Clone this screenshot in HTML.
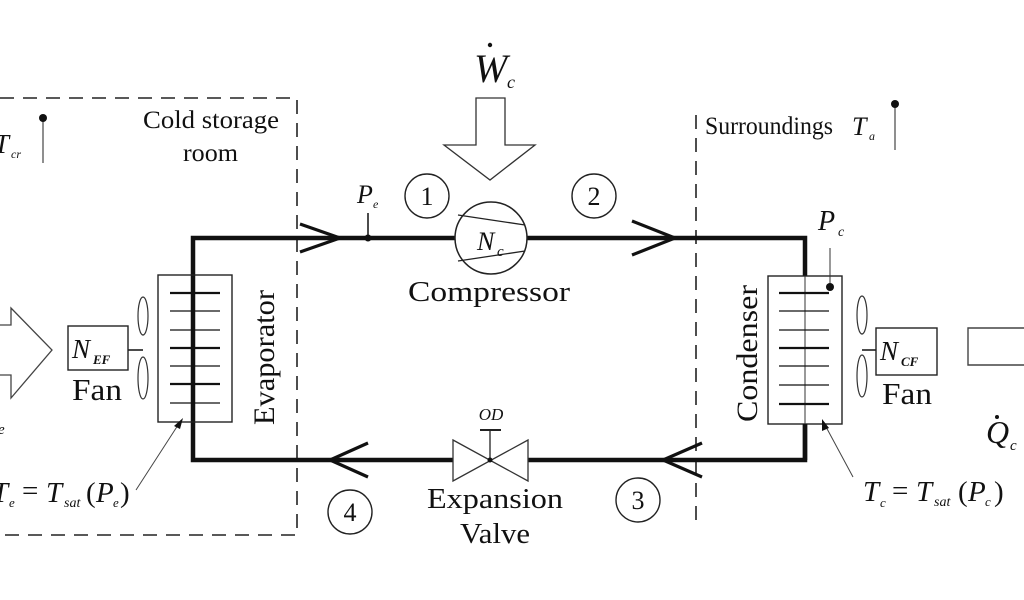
<!DOCTYPE html>
<html><head><style>
html,body{margin:0;padding:0;background:#fff;}
svg{display:block;}
text{font-family:"Liberation Serif",serif;fill:#111;}
.it{font-style:italic;}
</style></head><body>
<svg width="1024" height="600" viewBox="0 0 1024 600" xmlns="http://www.w3.org/2000/svg">
<g fill="none" stroke="#222" stroke-width="1.6" stroke-dasharray="14,9">
<path d="M0 98 H297 V535 H0"/>
<path d="M696 115 V522"/>
</g>
<g stroke="#111" stroke-width="4.5" fill="none">
<path d="M193 422 V238 H805 V276"/>
<path d="M193 422 V460 H453"/>
<path d="M528 460 H805 V424"/>
</g>
<g stroke="#111" stroke-width="3.2" fill="none">
<path d="M300 224 L340 238 L300 252"/>
<path d="M632 221 L675 238 L632 255"/>
<path d="M368 443 L330 460 L368 477"/>
<path d="M702 443 L663 460 L702 477"/>
</g>
<line x1="368" y1="213" x2="368" y2="238" stroke="#111" stroke-width="1.5"/>
<circle cx="368" cy="238" r="3.5" fill="#111"/>
<text x="357" y="203" class="it" font-size="26">P</text><text x="373" y="208" class="it" font-size="12">e</text>
<circle cx="491" cy="238" r="36" fill="#fff" stroke="#222" stroke-width="1.5"/>
<line x1="458" y1="215" x2="525" y2="225" stroke="#222" stroke-width="1.3"/>
<line x1="458" y1="261" x2="525" y2="251" stroke="#222" stroke-width="1.3"/>
<text x="477" y="250" class="it" font-size="26">N</text><text x="497" y="256" class="it" font-size="15">c</text>
<text x="408" y="301" font-size="29" textLength="162" lengthAdjust="spacingAndGlyphs">Compressor</text>
<path d="M476 98 H505 V145 H535 L490 180 L444 145 H476 Z" fill="#fff" stroke="#333" stroke-width="1.3"/>
<text x="474" y="82" class="it" font-size="40">W</text><text x="507" y="88" class="it" font-size="18">c</text>
<circle cx="490" cy="45" r="2.2" fill="#111"/>
<g fill="#fff" stroke="#222" stroke-width="1.4">
<circle cx="427" cy="196" r="22"/><circle cx="594" cy="196" r="22"/>
<circle cx="638" cy="500" r="22"/><circle cx="350" cy="512" r="22"/>
</g>
<g font-size="26" text-anchor="middle">
<text x="427" y="205">1</text><text x="594" y="205">2</text>
<text x="638" y="509">3</text><text x="350" y="521">4</text>
</g>
<path d="M453 440 L528 481 L528 440 L453 481 Z" fill="#fff" stroke="#333" stroke-width="1.3"/>
<line x1="490" y1="430" x2="490" y2="460" stroke="#222" stroke-width="1.3"/>
<line x1="480" y1="430" x2="501" y2="430" stroke="#222" stroke-width="2"/>
<circle cx="490" cy="460" r="2.5" fill="#111"/>
<text x="491" y="420" class="it" font-size="17" text-anchor="middle">OD</text>
<text x="427" y="508" font-size="29" textLength="136" lengthAdjust="spacingAndGlyphs">Expansion</text>
<text x="460" y="543" font-size="29" textLength="70" lengthAdjust="spacingAndGlyphs">Valve</text>
<rect x="158" y="275" width="74" height="147" fill="none" stroke="#222" stroke-width="1.4"/>
<g stroke="#111">
<line x1="170" y1="293" x2="220" y2="293" stroke-width="2.2"/>
<line x1="170" y1="311" x2="220" y2="311" stroke-width="1.3"/>
<line x1="170" y1="330" x2="220" y2="330" stroke-width="1.3"/>
<line x1="170" y1="348" x2="220" y2="348" stroke-width="2.2"/>
<line x1="170" y1="366" x2="220" y2="366" stroke-width="1.3"/>
<line x1="170" y1="384" x2="220" y2="384" stroke-width="2.2"/>
<line x1="170" y1="403" x2="220" y2="403" stroke-width="1.3"/>
</g>
<text transform="translate(274,425) rotate(-90)" font-size="30" textLength="135" lengthAdjust="spacingAndGlyphs">Evaporator</text>
<rect x="768" y="276" width="74" height="148" fill="none" stroke="#222" stroke-width="1.4"/>
<line x1="805" y1="276" x2="805" y2="424" stroke="#333" stroke-width="1"/>
<line x1="805" y1="424" x2="805" y2="460" stroke="#111" stroke-width="4.5"/>
<g stroke="#111">
<line x1="779" y1="293" x2="829" y2="293" stroke-width="2.2"/>
<line x1="779" y1="311" x2="829" y2="311" stroke-width="1.3"/>
<line x1="779" y1="330" x2="829" y2="330" stroke-width="1.3"/>
<line x1="779" y1="348" x2="829" y2="348" stroke-width="2.2"/>
<line x1="779" y1="366" x2="829" y2="366" stroke-width="1.3"/>
<line x1="779" y1="385" x2="829" y2="385" stroke-width="1.3"/>
<line x1="779" y1="404" x2="829" y2="404" stroke-width="2.2"/>
</g>
<line x1="830" y1="248" x2="830" y2="287" stroke="#333" stroke-width="1"/>
<circle cx="830" cy="287" r="4" fill="#111"/>
<text x="818" y="230" class="it" font-size="28">P</text><text x="838" y="236" class="it" font-size="14">c</text>
<text transform="translate(757,422) rotate(-90)" font-size="30" textLength="137" lengthAdjust="spacingAndGlyphs">Condenser</text>
<g fill="none" stroke="#333" stroke-width="1.2">
<ellipse cx="143" cy="316" rx="5" ry="19"/><ellipse cx="143" cy="378" rx="5" ry="21"/>
<ellipse cx="862" cy="315" rx="5" ry="19"/><ellipse cx="862" cy="376" rx="5" ry="21"/>
</g>
<line x1="127" y1="350" x2="143" y2="350" stroke="#111" stroke-width="1.5"/>
<rect x="68" y="326" width="60" height="44" fill="#fff" stroke="#222" stroke-width="1.4"/>
<text x="72" y="358" class="it" font-size="27">N</text><text x="93" y="364" class="it" font-size="13" font-weight="bold">EF</text>
<text x="72" y="400" font-size="31" textLength="50" lengthAdjust="spacingAndGlyphs">Fan</text>
<path d="M0 325 H11 V308 L52 350 L11 398 V375 H0" fill="#fff" stroke="#444" stroke-width="1.3"/>
<line x1="862" y1="350" x2="876" y2="350" stroke="#111" stroke-width="1.5"/>
<rect x="876" y="328" width="61" height="47" fill="#fff" stroke="#222" stroke-width="1.4"/>
<text x="880" y="360" class="it" font-size="27">N</text><text x="901" y="366" class="it" font-size="13" font-weight="bold">CF</text>
<text x="882" y="404" font-size="31" textLength="50" lengthAdjust="spacingAndGlyphs">Fan</text>
<path d="M1024 328 H968 V365 H1024" fill="#fff" stroke="#444" stroke-width="1.4"/>
<text x="986" y="443" class="it" font-size="32">Q</text><text x="1010" y="450" class="it" font-size="15">c</text>
<circle cx="997" cy="417" r="2" fill="#111"/>
<line x1="43" y1="118" x2="43" y2="163" stroke="#444" stroke-width="1.2"/>
<circle cx="43" cy="118" r="4" fill="#111"/>
<text x="-6" y="153" class="it" font-size="27">T</text><text x="11" y="158" class="it" font-size="12">cr</text>
<line x1="895" y1="104" x2="895" y2="150" stroke="#444" stroke-width="1.2"/>
<circle cx="895" cy="104" r="4" fill="#111"/>
<text x="705" y="134" font-size="25" textLength="128" lengthAdjust="spacingAndGlyphs">Surroundings</text>
<text x="852" y="135" class="it" font-size="26">T</text><text x="869" y="140" class="it" font-size="12">a</text>
<text x="143" y="128" font-size="25" textLength="136" lengthAdjust="spacingAndGlyphs">Cold storage</text>
<text x="183" y="161" font-size="25" textLength="55" lengthAdjust="spacingAndGlyphs">room</text>
<text x="-8" y="502" class="it" font-size="29">T</text><text x="9" y="507" class="it" font-size="13">e</text>
<text x="22" y="500" font-size="29">=</text>
<text x="46" y="502" class="it" font-size="29">T</text><text x="64" y="507" class="it" font-size="14">sat</text>
<text x="86" y="502" font-size="29">(</text><text x="96" y="502" class="it" font-size="29">P</text><text x="113" y="507" class="it" font-size="13">e</text><text x="120" y="502" font-size="29">)</text>
<text x="-2" y="434" class="it" font-size="15">e</text>
<line x1="136" y1="490" x2="180" y2="422" stroke="#444" stroke-width="1"/>
<path d="M183 418 L174 426 L180 429 Z" fill="#111"/>
<text x="863" y="501" class="it" font-size="29">T</text><text x="880" y="507" class="it" font-size="13">c</text>
<text x="892" y="500" font-size="29">=</text>
<text x="916" y="501" class="it" font-size="29">T</text><text x="934" y="506" class="it" font-size="14">sat</text>
<text x="958" y="501" font-size="29">(</text><text x="968" y="501" class="it" font-size="29">P</text><text x="985" y="506" class="it" font-size="13">c</text><text x="994" y="501" font-size="29">)</text>
<line x1="853" y1="477" x2="825" y2="425" stroke="#444" stroke-width="1"/>
<path d="M822 419 L822 431 L829 428 Z" fill="#111"/>
</svg>
</body></html>
